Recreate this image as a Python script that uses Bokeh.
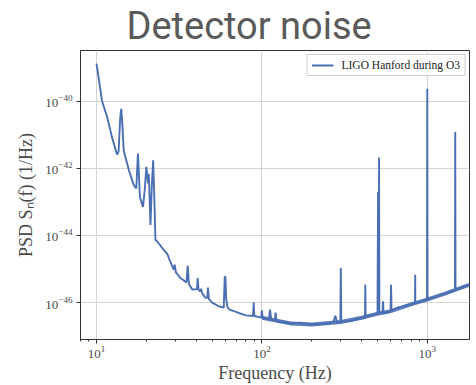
from bokeh.plotting import figure
from bokeh.models import Range1d, FixedTicker, Legend, LegendItem
from bokeh.embed import file_html
from bokeh.resources import INLINE

# Frequency (Hz) and PSD (1/Hz)
freq = [10.0, 10.8, 11.6, 12.4, 13.3, 13.6, 13.9, 14.1, 14.3, 14.6,
        15.7, 16.8, 17.4, 17.8, 18.3, 19.1, 19.6, 20.0, 20.5, 20.7,
        21.2, 21.6, 22.0, 22.4, 22.7, 23.3, 25.5, 26.8, 27.4, 29.3,
        29.7, 30.2, 32.2, 35.0, 35.6, 36.2, 37.9, 40.5, 40.9, 41.4,
        42.5, 42.9, 43.5, 45.6, 46.7, 47.2, 47.8, 50.0, 54.8, 58.8,
        59.6, 60.2, 60.8, 62.0, 63.9, 72.4, 80.0, 88.5, 89.2, 90.0,
        99.0, 100.0, 101.0, 110.0, 112.0, 114.0, 120.0, 121.0, 122.5, 129.0,
        150.0, 171.0, 196.0, 225.0, 270.0, 278.0, 285.0, 298.0, 300.0, 302.0,
        343.0, 420.0, 422.0, 424.0, 432.0, 500.0, 504.0, 506.0, 509.0, 511.0,
        513.0, 536.0, 540.0, 544.0, 571.0, 600.0, 604.0, 608.0, 656.0, 800.0,
        843.0, 845.0, 847.0, 996.0, 1000.0, 1004.0, 1300.0, 1470.0, 1476.0, 1482.0,
        1800.0]
psd = [1.32e-39, 1.02e-40, 3.31e-41, 8.51e-42, 2.57e-42, 3.16e-42, 3.16e-41, 5.89e-41, 2.51e-41, 3.39e-42,
       8.71e-43, 3.16e-43, 2.51e-43, 2.75e-42, 1.41e-43, 7.08e-44, 2.51e-43, 1.10e-42, 3.55e-43, 6.92e-43,
       2.04e-44, 3.16e-43, 1.74e-42, 1.00e-43, 7.41e-45, 6.61e-45, 3.72e-45, 2.82e-45, 2.09e-45, 9.55e-46,
       1.35e-45, 7.94e-46, 5.37e-46, 3.98e-46, 1.26e-45, 3.55e-46, 2.45e-46, 2.51e-46, 5.37e-46, 2.40e-46,
       2.14e-46, 2.57e-46, 1.91e-46, 1.38e-46, 1.41e-46, 2.82e-46, 1.26e-46, 1.00e-46, 7.76e-47, 7.08e-47,
       6.03e-46, 5.62e-46, 1.26e-46, 7.08e-47, 6.17e-47, 4.90e-47, 4.17e-47, 3.98e-47, 1.02e-46, 3.98e-47,
       3.55e-47, 5.89e-47, 3.55e-47, 3.16e-47, 6.17e-47, 3.02e-47, 3.02e-47, 5.01e-47, 2.82e-47, 2.63e-47,
       2.40e-47, 2.51e-47, 2.24e-47, 2.24e-47, 2.51e-47, 4.07e-47, 2.51e-47, 2.63e-47, 1.07e-45, 2.69e-47,
       2.82e-47, 3.55e-47, 3.39e-46, 3.55e-47, 3.98e-47, 4.68e-47, 2.00e-43, 5.01e-47, 5.01e-47, 2.09e-42,
       5.01e-47, 4.79e-47, 1.10e-46, 4.79e-47, 5.13e-47, 5.50e-47, 3.39e-46, 5.62e-47, 6.92e-47, 8.91e-47,
       9.55e-47, 6.76e-46, 9.55e-47, 1.20e-46, 2.34e-40, 1.23e-46, 1.91e-46, 2.34e-46, 1.20e-41, 2.40e-46,
       3.39e-46]

# Spread of the noisy floor above 100 Hz
band_freq = [100, 150, 200, 300, 400, 500, 600, 800, 1000, 1300, 1600, 1800]
band_lo = [3.09e-47, 2.09e-47, 1.95e-47, 2.29e-47, 3.09e-47, 4.07e-47, 4.79e-47, 7.76e-47, 1.07e-46, 1.66e-46, 2.40e-46, 2.95e-46]
band_hi = [4.07e-47, 2.75e-47, 2.57e-47, 3.02e-47, 4.07e-47, 5.37e-47, 6.31e-47, 1.02e-46, 1.41e-46, 2.19e-46, 3.16e-46, 3.89e-46]

y_ticks = [1e-46, 1e-44, 1e-42, 1e-40]
series_label = "LIGO Hanford during O3"

COLOR = "#4a6fb3"
SERIF = "Liberation Serif"
TXT = "#4a4a4a"

p = figure(width=476, height=385, x_axis_type="log", y_axis_type="log",
           x_range=Range1d(8.0, 1800.0), y_range=Range1d(7.94e-48, 3.24e-39),
           output_backend="svg", toolbar_location=None,
           title="Detector noise",
           min_border_left=80, min_border_right=7, min_border_top=50, min_border_bottom=45)

p.title.text_font = "Roboto"
p.title.text_font_size = "38px"
p.title.text_font_style = "normal"
p.title.text_color = "#5a5a5a"
p.title.align = "left"
p.title.offset = 46
p.title.standoff = 2
p.title.vertical_align = "top"

p.outline_line_color = "#333333"
p.outline_line_width = 1

band = p.varea(x=band_freq, y1=band_lo, y2=band_hi, fill_color=COLOR, fill_alpha=0.9)
line = p.line(freq, psd, line_color=COLOR, line_width=1.9)

p.xgrid.grid_line_color = "#d4d4d4"
p.ygrid.grid_line_color = "#d4d4d4"
p.yaxis.ticker = FixedTicker(ticks=y_ticks, minor_ticks=[])

for ax in (p.xaxis[0], p.yaxis[0]):
    ax.axis_line_color = "#333333"
    ax.major_tick_line_color = "#333333"
    ax.minor_tick_line_color = "#333333"
    ax.major_tick_out = 4
    ax.major_tick_in = 0
    ax.minor_tick_out = 2
    ax.minor_tick_in = 0
    ax.major_label_text_font = SERIF
    ax.major_label_text_font_size = "13px"
    ax.major_label_text_color = TXT
    ax.axis_label_text_font = SERIF
    ax.axis_label_text_font_size = "18px"
    ax.axis_label_text_font_style = "normal"
    ax.axis_label_text_color = TXT

p.xaxis.major_label_standoff = 2
p.xaxis.axis_label_standoff = 2
p.yaxis.major_label_standoff = 4
p.yaxis.axis_label_standoff = 6
p.yaxis.minor_tick_line_color = None
p.xaxis.axis_label = "Frequency (Hz)"
p.yaxis.axis_label = "PSD Sₙ(f) (1/Hz)"

legend = Legend(items=[LegendItem(label=series_label, renderers=[line])],
                location="top_right")
legend.label_text_font = SERIF
legend.label_text_font_size = "11.5px"
legend.label_text_color = "#222222"
legend.border_line_color = "#cccccc"
legend.border_line_alpha = 1
legend.background_fill_alpha = 0.85
legend.margin = 4
legend.padding = 4
legend.glyph_width = 22
legend.glyph_height = 10
legend.label_height = 10
legend.label_standoff = 8
legend.spacing = 0
p.add_layout(legend)

open("out.html", "w").write(file_html(p, INLINE))
